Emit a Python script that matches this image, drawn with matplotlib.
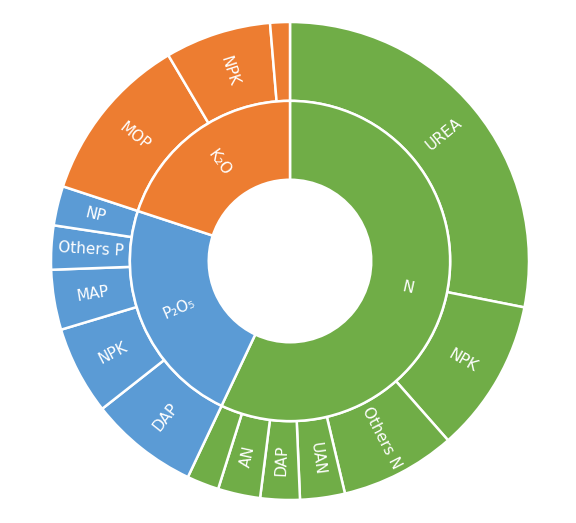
import matplotlib
matplotlib.use("Agg")
import matplotlib.pyplot as plt
import numpy as np

inner_labels = ["N", "P₂O₅", "K₂O"]
inner_values = [205.3, 82.9, 71.8]
inner_colors = ["#70AD47", "#5B9BD5", "#ED7D31"]

outer_labels = ["UREA", "NPK", "Others N", "UAN", "DAP", "AN", "",
                "DAP", "NPK", "MAP", "Others P", "NP",
                "MOP", "NPK", ""]
outer_values = [101.2, 37.4, 28.1, 10.9, 9.6, 10.3, 7.8,
                26.5, 21.5, 14.6, 10.7, 9.6,
                41.2, 25.8, 4.8]
outer_groups = [0]*7 + [1]*5 + [2]*3

fig = plt.figure(figsize=(5.76, 5.23), dpi=100)
ax = fig.add_axes([(290-240)/576, 1-(261+239)/523, 480/576, 478/523])

wp = dict(edgecolor='white', linewidth=1.8)
ax.pie(outer_values, radius=1.0, startangle=90, counterclock=False,
       colors=[inner_colors[g] for g in outer_groups],
       wedgeprops=dict(width=0.33, **wp))
ax.pie(inner_values, radius=0.67, startangle=90, counterclock=False,
       colors=inner_colors, wedgeprops=dict(width=0.33, **wp))
ax.set_xlim(-1, 1); ax.set_ylim(-1, 1); ax.set_aspect('equal'); ax.axis('off')

def place(labels, values, r, fs):
    cum = 0
    for lab, v in zip(labels, values):
        mid = cum + v/2
        cum += v
        if not lab:
            continue
        math_ang = 90 - mid
        t = np.radians(math_ang)
        rot = math_ang
        while rot > 90: rot -= 180
        while rot < -90: rot += 180
        ax.text(r*np.cos(t), r*np.sin(t), lab, rotation=rot, rotation_mode='anchor',
                ha='center', va='center', color='white', fontsize=fs,
                family=['DejaVu Sans'])

place(outer_labels, outer_values, 0.835, 11)
place(inner_labels, inner_values, 0.505, 11)

fig.savefig("out.png", dpi=100)
